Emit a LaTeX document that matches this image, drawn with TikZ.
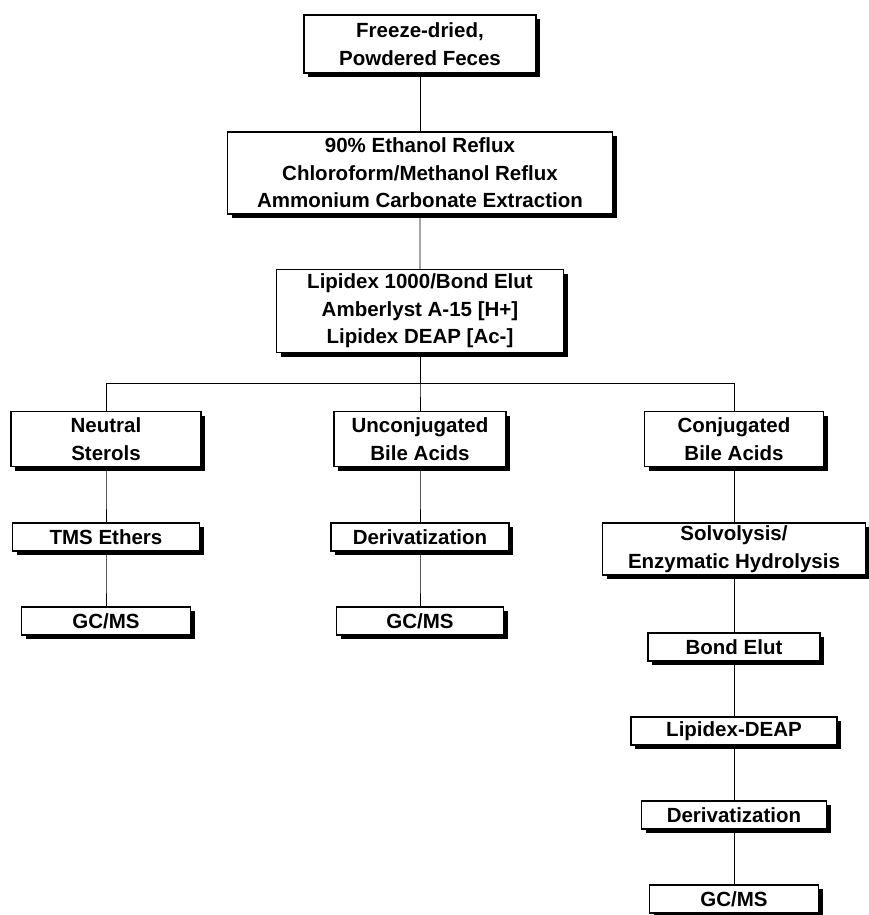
\documentclass[tikz,border=0pt]{standalone}
\usepackage{fontspec}
\setmainfont{Liberation Sans}
\usetikzlibrary{shadows}
\begin{document}
\begin{tikzpicture}[
        box/.style={draw, line width=1.2pt, fill=white, align=center, inner sep=0pt,
                font=\fontsize{20.5pt}{27.5pt}\selectfont\bfseries,
                drop shadow={shadow xshift=4pt, shadow yshift=-4pt, fill=black, opacity=1}},
        onebox/.style={box, minimum height=28pt},
        twobox/.style={box, minimum height=55pt},
        threebox/.style={box, minimum height=82pt},
        edge from parent/.style={draw, line width=0.8pt},
        edge from parent path={(\tikzparentnode.south) -- (\tikzchildnode.north)},
        level/.style={level distance=84pt},
        level 1/.style={level distance=129pt},
        level 2/.style={level distance=138pt},
        level 3/.style={level distance=128pt, sibling distance=314pt,
                edge from parent path={(\tikzparentnode.south) -- ++(0,-30pt) -| (\tikzchildnode.north)}},
        level 4/.style={level distance=98pt}
    ]
    \useasboundingbox (0,0) rectangle (868pt,-915pt);
    \node[twobox, minimum width=232pt, minimum height=58pt] (feces) at (420pt,-44pt) {Freeze-dried,\\Powdered Feces}
        child {node[threebox, minimum width=385pt] (extract) {90\% Ethanol Reflux\\Chloroform/Methanol Reflux\\Ammonium Carbonate Extraction}
                child {node[threebox, minimum width=287pt, minimum height=83pt] (lipidex) {Lipidex 1000/Bond Elut\\Amberlyst A-15 [H+]\\Lipidex DEAP [Ac-]}
                        child {node[twobox, minimum width=190pt] (neutral) {Neutral\\Sterols}
                                child {node[onebox, minimum width=187pt] (tms) {TMS Ethers}
                                        child {node[onebox, minimum width=169pt] (gcmsa) {GC/MS}}
                                    }
                            }
                        child {node[twobox, minimum width=172pt] (unconj) {Unconjugated\\Bile Acids}
                                child {node[onebox, minimum width=178pt] (derivb) {Derivatization}
                                        child {node[onebox, minimum width=167pt] (gcmsb) {GC/MS}}
                                    }
                            }
                        child {node[twobox, minimum width=179pt] (conj) {Conjugated\\Bile Acids}
                                child[level distance=110pt] {node[twobox, minimum width=263pt, minimum height=52pt] (solv) {Solvolysis/\\Enzymatic Hydrolysis}
                                        child[level distance=98pt] {node[onebox, minimum width=172pt] (bond) {Bond Elut}
                                                child {node[onebox, minimum width=206pt] (deap) {Lipidex-DEAP}
                                                        child {node[onebox, minimum width=185pt] (derivc) {Derivatization}
                                                                child {node[onebox, minimum width=169pt] (gcmsc) {GC/MS}}
                                                            }
                                                    }
                                            }
                                    }
                            }
                    }
            };
\end{tikzpicture}
\end{document}
